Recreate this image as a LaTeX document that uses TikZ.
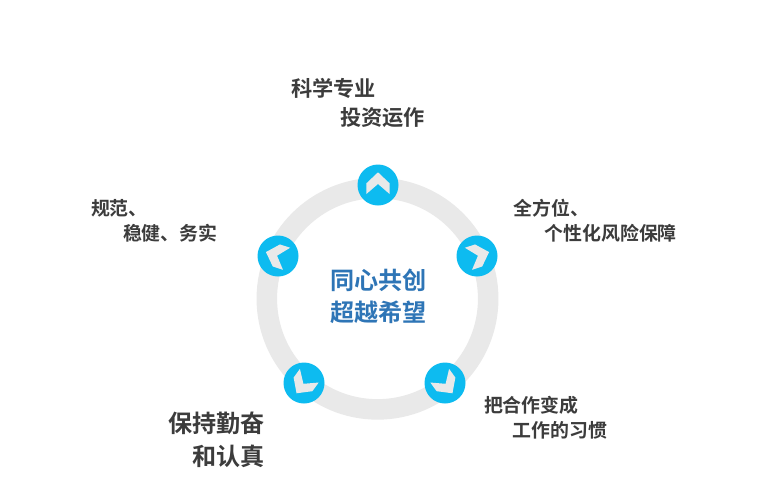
\documentclass[tikz,border=0pt]{standalone}
\usepackage{fontspec}
\newfontfamily\cjkb{Noto Sans CJK SC Bold}
\definecolor{ringgray}{HTML}{E9E9E9}
\definecolor{dotblue}{HTML}{0DBBF0}
\definecolor{chevgray}{HTML}{E9E9E9}
\definecolor{labeldark}{HTML}{3C3C3C}
\definecolor{centerblue}{HTML}{2E75B6}
\tikzset{
  lbl/.style={anchor=west,inner sep=0pt,outer sep=0pt,text=labeldark,font=\cjkb\fontsize{#1}{#1}\selectfont},
  ctr/.style={anchor=west,inner sep=0pt,outer sep=0pt,text=centerblue,font=\cjkb\fontsize{24.1}{24.1}\selectfont},
  dot/.style={circle,fill=dotblue,minimum size=41pt,inner sep=0pt,draw=none},
}
\begin{document}
\begin{tikzpicture}[x=1pt,y=-1pt]
\useasboundingbox (0,0) rectangle (766,485);
\fill[white] (0,0) rectangle (766,485);
\draw[ringgray,line width=20.5pt] (377.5,298.7) circle[radius=110.7pt];
\node[dot] (d1) at (378,185) {};
\node[dot] (d2) at (477,256) {};
\node[dot] (d3) at (445,383) {};
\node[dot] (d4) at (304,383) {};
\node[dot] (d5) at (278,256) {};
\foreach \n/\a in {d1/0,d2/-72,d3/-144,d4/-216,d5/-288}{
  \fill[chevgray,shift={(\n.center)},rotate=\a]
    (0,-12.7) -- (11.6,-1.7) -- (11.6,9) -- (0,-1) -- (-11.6,9) -- (-11.6,-1.7) -- cycle;
}
\node[lbl=21.2] (t1a) at (291,88.3) {科学专业};
\node[lbl=21.2] (t1b) at (340,117.5) {投资运作};
\node[lbl=18.9] (t2a) at (513.5,208) {全方位、};
\node[lbl=18.9] (t2b) at (544.5,233) {个性化风险保障};
\node[lbl=18.9] (t3a) at (484,405) {把合作变成};
\node[lbl=18.9] (t3b) at (512.5,430) {工作的习惯};
\node[lbl=24.1] (t4a) at (168,423) {保持勤奋};
\node[lbl=24.1] (t4b) at (192,456) {和认真};
\node[lbl=18.9] (t5a) at (91,208) {规范、};
\node[lbl=18.9] (t5b) at (123,233) {稳健、务实};
\node[ctr] (c1) at (330,280) {同心共创};
\node[ctr] (c2) at (330,312.3) {超越希望};
\end{tikzpicture}
\end{document}
